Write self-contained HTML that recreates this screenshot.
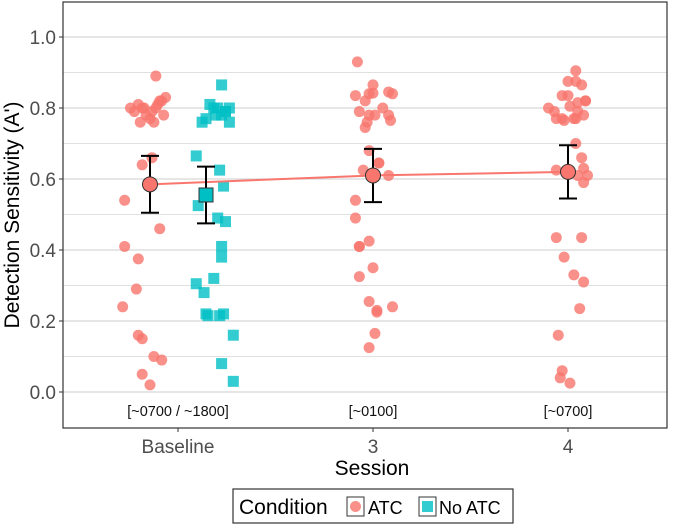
<!DOCTYPE html>
<html><head><meta charset="utf-8"><style>
body{margin:0;background:#fff;}
svg{display:block;font-family:"Liberation Sans",sans-serif;}
</style></head><body>
<svg id="chart" width="685" height="527"></svg>
<script>
const categories=["Baseline","3","4"];
const yTicks=[0.0,0.2,0.4,0.6,0.8,1.0];
const timeLabels=["[~0700 / ~1800]","[~0100]","[~0700]"];
const baseAtcVals=[0.89,0.80,0.81,0.78,0.76,0.82,0.83,0.79,0.80,0.77,0.81,0.78,0.80,0.79,0.76,0.82,0.80,0.66,0.64,0.54,0.46,0.41,0.375,0.29,0.24,0.16,0.15,0.10,0.09,0.05,0.02];
const baseAtcJit=[0.03,-0.1,-0.06,-0.02,0.02,0.06,0.08,-0.08,-0.04,0,0.04,0.07,-0.03,0.01,-0.05,0.05,0.03,0.01,-0.04,-0.13,0.05,-0.13,-0.06,-0.07,-0.14,-0.06,-0.04,0.02,0.06,-0.04,0];
const baseNoVals=[0.865,0.81,0.80,0.79,0.78,0.80,0.76,0.77,0.76,0.78,0.80,0.79,0.665,0.625,0.58,0.525,0.49,0.48,0.41,0.38,0.32,0.305,0.28,0.22,0.215,0.215,0.22,0.16,0.08,0.03];
const baseNoJit=[0.08,0.02,0.06,0.1,0.05,0.12,-0.02,0,0.12,0.08,0.04,0.1,-0.05,0.07,0.09,-0.04,0.06,0.1,0.08,0.08,0.04,-0.05,-0.01,0,0.01,0.07,0.09,0.14,0.08,0.14];
const s3Vals=[0.93,0.865,0.835,0.84,0.842,0.845,0.84,0.82,0.79,0.80,0.78,0.78,0.78,0.765,0.76,0.745,0.68,0.645,0.645,0.625,0.61,0.54,0.49,0.425,0.41,0.41,0.35,0.325,0.255,0.23,0.225,0.24,0.165,0.125];
const s3Jit=[-0.08,0,-0.09,-0.02,0,0.08,0.1,-0.04,-0.07,0.05,-0.02,0.01,0.08,0.09,-0.03,-0.04,-0.02,0.03,0.03,-0.05,0.08,-0.09,-0.09,-0.02,-0.07,-0.07,0,-0.07,-0.02,0.02,0.02,0.1,0.01,-0.02];
const s4Vals=[0.905,0.875,0.875,0.865,0.835,0.835,0.815,0.82,0.82,0.805,0.80,0.79,0.77,0.77,0.765,0.79,0.77,0.77,0.78,0.70,0.66,0.625,0.63,0.61,0.61,0.59,0.435,0.435,0.38,0.33,0.31,0.235,0.16,0.06,0.04,0.025];
const s4Jit=[0.04,0,0.04,0.07,-0.03,0,0.05,0.09,0.09,0.01,-0.1,-0.07,-0.06,-0.03,-0.02,0.05,0.04,0.03,0.08,0.04,0.07,-0.06,0.08,0.05,0.1,0.08,-0.06,0.07,-0.02,0.03,0.08,0.06,-0.05,-0.03,-0.04,0.01];
const atcMeans=[0.585,0.61,0.62];
const atcLo=[0.505,0.535,0.545];
const atcHi=[0.665,0.685,0.695];
const noMean=[0.555];
const noLo=[0.475];
const noHi=[0.635];

const NS="http://www.w3.org/2000/svg";
const svg=document.getElementById("chart");
const L=63,R=667,T=2,B=428;
function y(v){return 392-v*355;}
function x(i){return 178+i*195;}
const dodge=28;
function mk(t,a,p){const e=document.createElementNS(NS,t);for(const k in a)e.setAttribute(k,a[k]);(p||svg).appendChild(e);return e;}
for(let v=0;v<=1.0001;v+=0.1){const g=mk("line",{x1:L,x2:R,y1:y(v),y2:y(v),stroke:"#d6d6d6","stroke-width":Math.round(v*10)%2===0?1.3:0.8});

}
yTicks.forEach(v=>{mk("line",{x1:L-4,x2:L,y1:y(v),y2:y(v),stroke:"#333"});
const t=mk("text",{x:L-7,y:y(v)+7,"text-anchor":"end","font-size":19,fill:"#4d4d4d"});t.textContent=v.toFixed(1);

});
categories.forEach((c,i)=>{mk("line",{x1:x(i),x2:x(i),y1:B,y2:B+4,stroke:"#333"});
const t=mk("text",{x:x(i),y:B+25,"text-anchor":"middle","font-size":19,fill:"#4d4d4d"});t.textContent=c;


const s=mk("text",{x:x(i),y:416,"text-anchor":"middle","font-size":14.5,fill:"#111"});s.textContent=timeLabels[i];

});
function pts(vals,jit,cx,sq){vals.forEach((v,k)=>{const px=cx+jit[k]*195,py=y(v);let e;
if(sq)e=mk("rect",{x:px-5.5,y:py-5.5,width:11,height:11,fill:"#00BFC4","fill-opacity":0.8});
else e=mk("circle",{cx:px,cy:py,r:5.5,fill:"#F8766D","fill-opacity":0.8});

});}
pts(baseAtcVals,baseAtcJit,x(0)-dodge,false);
pts(baseNoVals,baseNoJit,x(0)+dodge,true);
pts(s3Vals,s3Jit,x(1),false);
pts(s4Vals,s4Jit,x(2),false);
const mx=[x(0)-dodge,x(1),x(2)];
const ln=mk("polyline",{points:atcMeans.map((m,i)=>mx[i]+","+y(m)).join(" "),fill:"none",stroke:"#F8766D","stroke-width":2});


function eb(cx,lo,hi){const g=mk("g",{stroke:"#000","stroke-width":2});
mk("line",{x1:cx,x2:cx,y1:y(lo),y2:y(hi)},g);mk("line",{x1:cx-9,x2:cx+9,y1:y(lo),y2:y(lo)},g);mk("line",{x1:cx-9,x2:cx+9,y1:y(hi),y2:y(hi)},g);

}
atcMeans.forEach((m,i)=>{eb(mx[i],atcLo[i],atcHi[i]);const c=mk("circle",{cx:mx[i],cy:y(m),r:7.5,fill:"#F8766D",stroke:"#333","stroke-width":1});

});
noMean.forEach((m,i)=>{const cx=x(0)+dodge;eb(cx,noLo[i],noHi[i]);const r=mk("rect",{x:cx-7,y:y(m)-7,width:14,height:14,fill:"#00BFC4",stroke:"#333","stroke-width":1});

});
const pb=mk("rect",{x:L,y:T,width:R-L,height:B-T,fill:"none",stroke:"#333","stroke-width":1.2});


const xt=mk("text",{x:372,y:475,"text-anchor":"middle","font-size":21,fill:"#000"});xt.textContent="Session";


const yt=mk("text",{x:0,y:0,"text-anchor":"middle","font-size":21,fill:"#000",transform:"translate(19,215) rotate(-90)"});yt.textContent="Detection Sensitivity (A')";


const lg=mk("g",{});


mk("rect",{x:233,y:489,width:280,height:34,fill:"#fff",stroke:"#333","stroke-width":1.2},lg);
const lt=mk("text",{x:239,y:514,"font-size":21,fill:"#000"},lg);lt.textContent="Condition";
mk("rect",{x:347,y:497,width:17,height:19,fill:"#fff",stroke:"#333"},lg);
mk("circle",{cx:355.5,cy:506.5,r:5.5,fill:"#F8766D","fill-opacity":0.8},lg);
const l1=mk("text",{x:368,y:514,"font-size":18,fill:"#000"},lg);l1.textContent="ATC";


mk("rect",{x:419,y:497,width:17,height:19,fill:"#fff",stroke:"#333"},lg);
mk("rect",{x:422,y:501,width:11,height:11,fill:"#00BFC4","fill-opacity":0.8},lg);
const l2=mk("text",{x:439,y:514,"font-size":18,fill:"#000"},lg);l2.textContent="No ATC";


</script>
</body></html>
